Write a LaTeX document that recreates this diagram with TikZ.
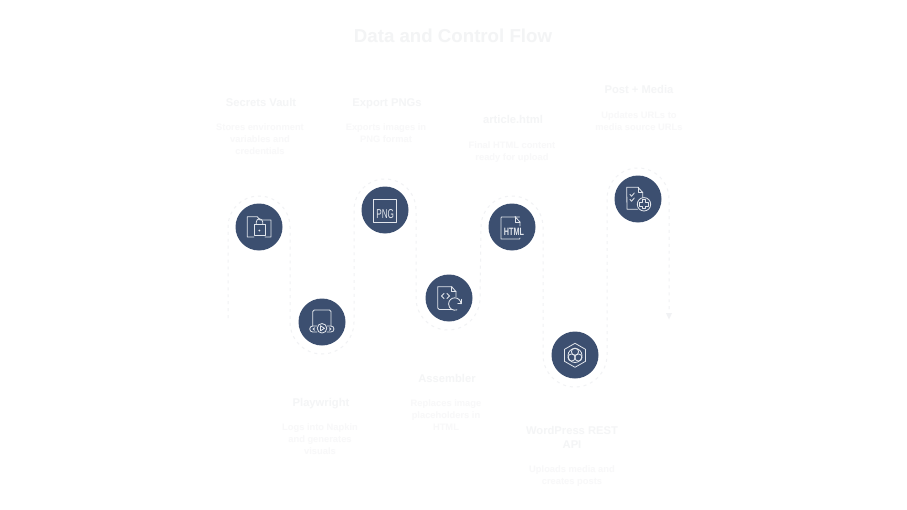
\documentclass[tikz,border=0pt]{standalone}
\usepackage{fontspec}
\setmainfont{Liberation Sans}
\usetikzlibrary{arrows.meta,calc}
\definecolor{titlec}{HTML}{F3F4F5}
\definecolor{headc}{HTML}{F4F5F6}
\definecolor{descc}{HTML}{F8F8F9}
\definecolor{dashc}{HTML}{F1F2F4}
\definecolor{discc}{HTML}{3C4F70}
\definecolor{iconc}{HTML}{E2E6EC}
\tikzset{
  x=0.75pt,y=-0.75pt,
  disc/.style={circle,fill=discc,draw=none,minimum size=35.25pt,inner sep=0pt},
  flow/.style={draw=dashc,line width=0.75pt,dash pattern=on 2.2pt off 3pt},
  heading/.style={text=headc,yshift=-1.5pt,font=\fontsize{8.4pt}{10.5pt}\selectfont\bfseries,align=center,inner sep=0pt,execute at begin node=\strut,execute at end node=\strut},
  desc/.style={text=descc,yshift=-1.5pt,font=\fontsize{7pt}{9pt}\selectfont\bfseries,align=center,inner sep=0pt,execute at begin node=\strut,execute at end node=\strut},
  ttl/.style={text=titlec,yshift=-1.5pt,font=\fontsize{14pt}{18pt}\selectfont\bfseries,inner sep=0pt,execute at begin node=\strut},
  icon/.style={draw=iconc,line width=0.62pt,line join=round,line cap=round},
  icontext/.style={text=iconc,inner sep=0pt},
}
\begin{document}
\begin{tikzpicture}
\useasboundingbox[fill=white] (0,0) rectangle (907,510);
\node[ttl] (title) at (453,36) {Data and Control Flow};

\node[disc] (n1) at (259,227) {};
\node[disc] (n2) at (322,322) {};
\node[disc] (n3) at (385,210) {};
\node[disc] (n4) at (449,298) {};
\node[disc] (n5) at (512,227) {};
\node[disc] (n6) at (575,355) {};
\node[disc] (n7) at (638,199) {};

\coordinate (s) at (228,318);
\coordinate (e) at (669,320);

% connector
\path[flow] (s) -- ($(n1)+(-31,0)$) arc[start angle=180,end angle=360,radius=31]
  -- ($(n2)+(-32,0)$) arc[start angle=180,end angle=0,radius=32]
  -- ($(n3)+(-31,0)$) arc[start angle=180,end angle=360,radius=31]
  -- ($(n4)+(-33,0)$) arc[start angle=180,end angle=0,radius=32]
  -- ($(n5)+(-31,0)$) arc[start angle=180,end angle=360,radius=31]
  -- ($(n6)+(-32,0)$) arc[start angle=180,end angle=0,radius=32]
  -- ($(n7)+(-31,0)$) arc[start angle=180,end angle=360,radius=31]
  -- (e);
\fill[dashc] (666,313) -- (672,313) -- (669,319.5) -- cycle;

% icon 1 folder + lock
\draw[icon] (254,237) -- (247.3,237) -- (247.3,216.7) -- (257.3,216.7) -- (260,220) -- (271,220) -- (271,237) -- (265,237);
\draw[icon] (254,224.3) rectangle (265,235);
\draw[icon] (256.3,224.3) -- (256.3,222) arc[start angle=180,end angle=360,radius=3.2] -- (262.7,224.3);
\fill[iconc] (259.4,230.5) circle[radius=1];

% icon 2 player
\draw[icon] (312.7,326) -- (312.7,311.5) arc[start angle=180,end angle=270,radius=1.5] -- (329.5,310) arc[start angle=270,end angle=360,radius=1.5] -- (331,326);
\draw[icon] (322,328.3) circle[radius=4.8];
\draw[icon] (320.5,325.8) -- (324.5,328.3) -- (320.5,330.8) -- cycle;
\draw[icon] (317,326) -- (312.7,326) arc[start angle=270,end angle=90,radius=3] -- (317,332);
\draw[icon] (327,326) -- (331,326) arc[start angle=-90,end angle=90,radius=3] -- (327,332);
\draw[icon] (314.7,327.8) -- (313,329) -- (314.7,330.3);
\draw[icon] (329.3,327.8) -- (331,329) -- (329.3,330.3);

% icon 3 PNG
\draw[icon] (373.3,199.3) rectangle (396.7,222.7);
\node[icontext,font=\fontsize{9.7pt}{11pt}\selectfont] (pngt) at (385.2,214) {\scalebox{0.63}[1]{PNG}};

% icon 4 assembler
\draw[icon] (453,309.5) -- (439.3,309.5) -- (437.7,308) -- (437.7,286.7) -- (451.7,286.7) -- (456,291.7) -- (456,297);
\draw[icon] (451.7,286.7) -- (451.7,291.7) -- (456,291.7);
\draw[icon] (444,293.5) -- (441.5,296) -- (444,298.5);
\draw[icon] (447,293.5) -- (449.5,296) -- (447,298.5);
\draw[icon] (461,304) arc[start angle=0,end angle=-290,radius=6.2];
\draw[icon] (457.8,303.2) -- (461.8,303.2) -- (461.8,299.3);

% icon 5 HTML
\draw[icon] (519.5,217) -- (501.5,217) -- (501,218) -- (501,239) -- (519.5,239) -- (520,238);
\draw[icon] (515,216.7) -- (520,222) -- (520,226);
\draw[icon] (515,216.7) -- (515,222) -- (520,222);
\node[icontext,font=\fontsize{8pt}{9pt}\selectfont\bfseries] (htmlt) at (514,232) {\scalebox{0.68}[1]{HTML}};

% icon 6 hexagon
\draw[icon] (575,343.3) -- (585.5,349.3) -- (585.5,361.3) -- (575,367.3) -- (564.5,361.3) -- (564.5,349.3) -- cycle;
\draw[icon] (575,355.5) circle[radius=7];
\draw[icon] (575,351.7) circle[radius=3.6];
\draw[icon] (571.6,357.5) circle[radius=3.6];
\draw[icon] (578.4,357.5) circle[radius=3.6];

% icon 7 doc + plus
\draw[icon] (637.5,209.3) -- (627,209.3) -- (626.7,187.3) -- (638,187.3) -- (642.7,192.5) -- (642.7,197.5);
\draw[icon] (638,187.3) -- (638,192.5) -- (642.7,192.5);
\draw[icon] (630,194.5) -- (631.5,196.3) -- (634.3,193);
\draw[icon] (630,199.5) -- (631.5,201.3) -- (634.3,198);
\draw[icon] (644,204.3) circle[radius=6.7];
\draw[icon] (642.3,199.8) -- (645.7,199.8) -- (645.7,202.6) -- (648.5,202.6) -- (648.5,206) -- (645.7,206) -- (645.7,208.8) -- (642.3,208.8) -- (642.3,206) -- (639.5,206) -- (639.5,202.6) -- (642.3,202.6) -- cycle;

% texts
\node[heading] (h1) at (261,102) {Secrets Vault};
\node[desc] (d1) at (260,139) {Stores environment\\variables and\\credentials};
\node[heading] (h3) at (387,102) {Export PNGs};
\node[desc] (d3) at (386,133) {Exports images in\\PNG format};
\node[heading] (h5) at (513,119) {article.html};
\node[desc] (d5) at (512,151) {Final HTML content\\ready for upload};
\node[heading] (h7) at (639,89) {Post + Media};
\node[desc] (d7) at (639,121) {Updates URLs to\\media source URLs};
\node[heading] (h2) at (321,402) {Playwright};
\node[desc] (d2) at (320,439) {Logs into Napkin\\and generates\\visuals};
\node[heading] (h4) at (447,378) {Assembler};
\node[desc] (d4) at (446,415) {Replaces image\\placeholders in\\HTML};
\node[heading] (h6) at (572,438) {WordPress REST\\API};
\node[desc] (d6) at (572,475) {Uploads media and\\creates posts};
\end{tikzpicture}
\end{document}
